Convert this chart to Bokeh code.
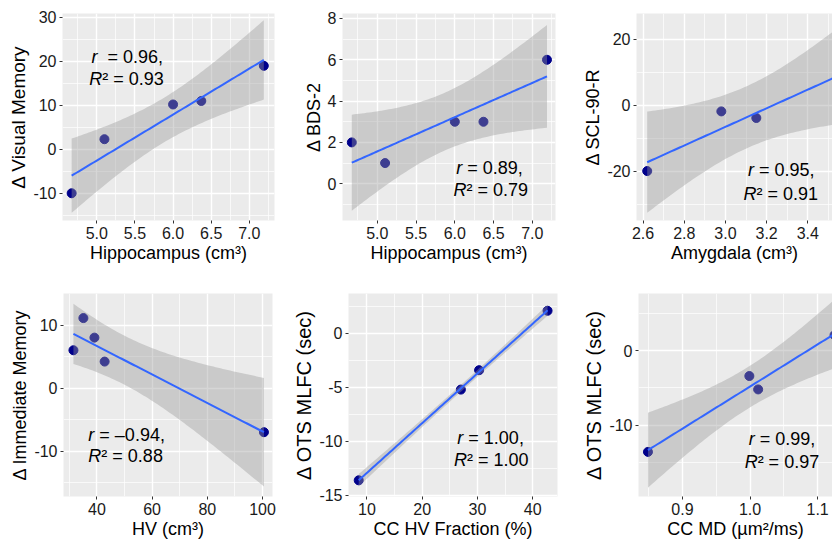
import numpy as np
from bokeh.plotting import figure
from bokeh.layouts import row, column
from bokeh.models import FixedTicker, NumeralTickFormatter, Range1d, Label
from bokeh.embed import file_html
from bokeh.resources import INLINE

# ---------------- data ----------------
hippo_x = [4.67, 5.10, 6.00, 6.37, 7.19]
visual_mem_y = [-10.0, 2.3, 10.2, 11.0, 19.0]
bds2_y = [2.0, 1.0, 3.0, 3.0, 6.0]
amygdala_x = [2.62, 2.98, 3.15, 3.66]
scl90_y = [-20.0, -1.9, -3.9, 11.0]
hv_x = [31.5, 35.1, 39.1, 42.8, 100.5]
immediate_mem_y = [6.0, 11.1, 8.0, 4.2, -7.0]
cc_hv_fraction_x = [8.5, 27.0, 30.3, 42.7]
ots_mlfc_y = [-13.6, -5.2, -3.4, 2.1]
cc_md_x = [0.849, 1.012, 0.999, 1.125]
ots_mlfc2_y = [-13.6, -5.2, -3.4, 2.1]

# tick labels
p1_xticks = [5.0, 5.5, 6.0, 6.5, 7.0]
p1_yticks = [-10, 0, 10, 20, 30]
p2_xticks = [5.0, 5.5, 6.0, 6.5, 7.0]
p2_yticks = [0, 2, 4, 6, 8]
p3_xticks = [2.6, 2.8, 3.0, 3.2, 3.4, 3.6]
p3_yticks = [-20, 0, 20]
p4_xticks = [40, 60, 80, 100]
p4_yticks = [-10, 0, 10]
p5_xticks = [10, 20, 30, 40]
p5_yticks = [-15, -10, -5, 0]
p6_xticks = [0.9, 1.0, 1.1]
p6_yticks = [-10, 0]

# statistics text
NB = "\u00a0"
stats_r = [NB + NB + "= 0.96,", NB + "= 0.89,", NB + "= 0.95,", NB + "= \u20130.94,", NB + "= 1.00,", NB + "= 0.99,"]
stats_r2 = ["\u00b2 = 0.93", "\u00b2 = 0.79", "\u00b2 = 0.91", "\u00b2 = 0.88", "\u00b2 = 1.00", "\u00b2 = 0.97"]

T975 = {2: 4.302653, 3: 3.182446}

FONT = "Liberation Sans"


def fit_band(x, y, n=80):
    x = np.asarray(x, float)
    y = np.asarray(y, float)
    b, a = np.polyfit(x, y, 1)
    xs = np.linspace(x.min(), x.max(), n)
    yhat = a + b * xs
    resid = y - (a + b * x)
    dof = len(x) - 2
    s = np.sqrt((resid ** 2).sum() / dof)
    sxx = ((x - x.mean()) ** 2).sum()
    se = s * np.sqrt(1.0 / len(x) + (xs - x.mean()) ** 2 / sxx)
    t = T975[dof]
    return xs, yhat, yhat - t * se, yhat + t * se


def minors(ticks):
    step = ticks[1] - ticks[0]
    out = [ticks[0] - step / 2]
    for t in ticks:
        out.append(t + step / 2)
    return out


def make_panel(c, idx):
    p = figure(width=c["w"], height=c["h"], output_backend="svg", toolbar_location=None,
               x_range=Range1d(*c["xr"]), y_range=Range1d(*c["yr"]),
               min_border_left=c["L"], min_border_right=c["R"],
               min_border_top=c["T"], min_border_bottom=c["B"])
    p.background_fill_color = "#EBEBEB"
    p.border_fill_color = "white"
    p.outline_line_color = None

    p.xaxis.ticker = FixedTicker(ticks=c["xt"], minor_ticks=minors(c["xt"]))
    p.yaxis.ticker = FixedTicker(ticks=c["yt"], minor_ticks=minors(c["yt"]))
    p.xaxis.formatter = NumeralTickFormatter(format=c["xf"])
    p.yaxis.formatter = NumeralTickFormatter(format=c["yf"])

    for ax in (p.xaxis[0], p.yaxis[0]):
        ax.axis_line_color = None
        ax.major_tick_line_color = "#333333"
        ax.major_tick_out = 3
        ax.major_tick_in = 0
        ax.minor_tick_line_color = None
        ax.major_label_text_font = FONT
        ax.major_label_text_font_size = "16px"
        ax.major_label_text_color = "#1a1a1a"
        ax.axis_label_text_font = FONT
        ax.axis_label_text_font_style = "normal"
        ax.axis_label_text_color = "black"
    p.xaxis.axis_label = c["xl"]
    p.yaxis.axis_label = c["yl"]
    p.xaxis.axis_label_text_font_size = "18px"
    p.yaxis.axis_label_text_font_size = c["ylfs"]
    p.xaxis.major_label_standoff = 2
    p.yaxis.major_label_standoff = 2
    p.xaxis.axis_label_standoff = 1
    p.yaxis.axis_label_standoff = 1

    for g in (p.xgrid[0], p.ygrid[0]):
        g.grid_line_color = "white"
        g.grid_line_width = 1.4
        g.minor_grid_line_color = "white"
        g.minor_grid_line_width = 0.7

    xs, yhat, lo, hi = fit_band(c["x"], c["y"])
    p.scatter(c["x"], c["y"], size=9, color="#00008B")
    p.varea(x=xs, y1=lo, y2=hi, fill_color="#999999", fill_alpha=0.4)
    p.line(xs, yhat, line_color="#3366FF", line_width=2)

    ax_, ay1, ay2 = c["ann"]
    ax2 = c["ann2x"]
    common = dict(text_font=FONT, text_font_size="18px", text_color="black",
                  text_baseline="alphabetic")
    p.add_layout(Label(x=ax_, y=ay1, text="r", text_font_style="italic", **common))
    p.add_layout(Label(x=ax_, y=ay1, x_offset=6, text=stats_r[idx], **common))
    p.add_layout(Label(x=ax2, y=ay2, text="R", text_font_style="italic", **common))
    p.add_layout(Label(x=ax2, y=ay2, x_offset=13, text=stats_r2[idx], **common))
    return p


cfgs = [
    dict(x=hippo_x, y=visual_mem_y, xt=p1_xticks, yt=p1_yticks, xf="0.0", yf="0",
         xr=(4.55, 7.33), yr=(-16.2, 30.9), w=290, h=278, L=62, R=16, T=13, B=58,
         xl="Hippocampus (cm\u00b3)", yl="\u0394 Visual Memory", ylfs="19px",
         ann=(4.93, 21.0, 16.07), ann2x=4.90),
    dict(x=hippo_x, y=bds2_y, xt=p2_xticks, yt=p2_yticks, xf="0.0", yf="0",
         xr=(4.55, 7.30), yr=(-1.78, 8.24), w=290, h=278, L=52, R=25, T=13, B=58,
         xl="Hippocampus (cm\u00b3)", yl="\u0394 BDS-2", ylfs="18px",
         ann=(6.018, 0.78, -0.32), ann2x=5.983),
    dict(x=amygdala_x, y=scl90_y, xt=p3_xticks, yt=p3_yticks, xf="0.0", yf="0",
         xr=(2.568, 3.52), yr=(-35.0, 27.8), w=252, h=278, L=53, R=0, T=13, B=58,
         xl="Amygdala (cm\u00b3)", yl="\u0394 SCL-90-R", ylfs="18px",
         ann=(3.109, -19.7, -27.0), ann2x=3.088),
    dict(x=hv_x, y=immediate_mem_y, xt=p4_xticks, yt=p4_yticks, xf="0", yf="0",
         xr=(27.9, 103.6), yr=(-17.2, 15.0), w=290, h=269, L=63, R=18, T=15, B=51,
         xl="HV (cm\u00b3)", yl="\u0394 Immediate Memory", ylfs="18px",
         ann=(36.9, -7.47, -10.8), ann2x=36.9),
    dict(x=cc_hv_fraction_x, y=ots_mlfc_y, xt=p5_xticks, yt=p5_yticks, xf="0", yf="0",
         xr=(6.65, 44.5), yr=(-15.1, 3.7), w=290, h=269, L=58, R=23, T=15, B=51,
         xl="CC HV Fraction (%)", yl="\u0394 OTS MLFC (sec)", ylfs="20px",
         ann=(26.36, -9.72, -11.74), ann2x=25.75),
    dict(x=cc_md_x, y=ots_mlfc2_y, xt=p6_xticks, yt=p6_yticks, xf="0.0", yf="0",
         xr=(0.835, 1.122), yr=(-19.6, 7.7), w=252, h=269, L=53, R=0, T=15, B=51,
         xl="CC MD (\u00b5m\u00b2/ms)", yl="\u0394 OTS MLFC (sec)", ylfs="20px",
         ann=(0.998, -11.93, -14.96), ann2x=0.992),
]

panels = [make_panel(c, i) for i, c in enumerate(cfgs)]
layout = column(row(panels[0], panels[1], panels[2]), row(panels[3], panels[4], panels[5]))

open("out.html", "w").write(file_html(layout, INLINE))
